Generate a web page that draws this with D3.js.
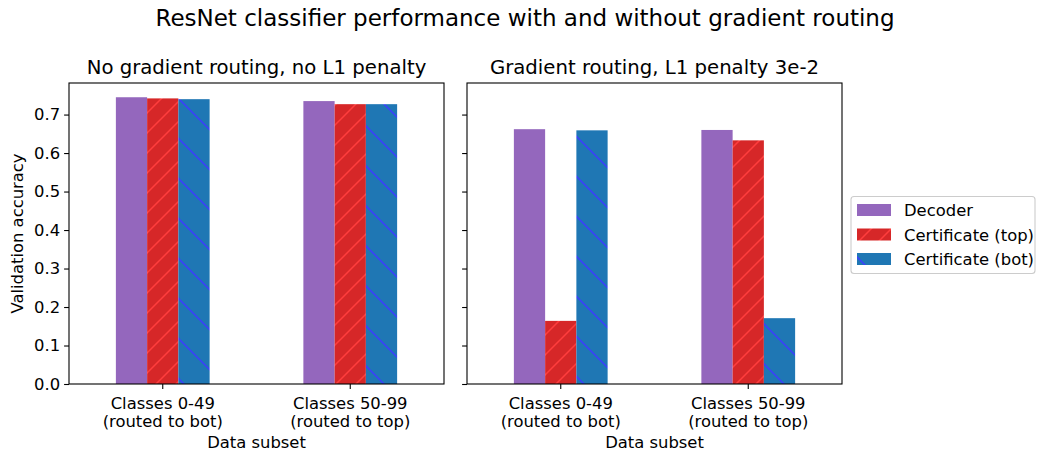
<!DOCTYPE html>
<html>
<head>
<meta charset="utf-8">
<script src="https://cdn.jsdelivr.net/npm/d3@7"></script>
<style>
  body { margin: 0; background: #fff; }
  svg { display: block; font-family: "DejaVu Sans", sans-serif; }
</style>
</head>
<body>
<svg id="chart" width="1041" height="450"></svg>
<script>
// ---- data ----
const categories = ["Classes 0-49\n(routed to bot)", "Classes 50-99\n(routed to top)"];
const seriesNames = ["Decoder", "Certificate (top)", "Certificate (bot)"];
const panelTitles = ["No gradient routing, no L1 penalty", "Gradient routing, L1 penalty 3e-2"];
const noRoutingDecoder = [0.745, 0.735];
const noRoutingCertTop = [0.742, 0.727];
const noRoutingCertBot = [0.740, 0.727];
const routingDecoder = [0.662, 0.660];
const routingCertTop = [0.164, 0.633];
const routingCertBot = [0.659, 0.171];
const yTicks = [0.0, 0.1, 0.2, 0.3, 0.4, 0.5, 0.6, 0.7];
const yMax = 0.782;

const panels = [
  { title: panelTitles[0], values: [noRoutingDecoder, noRoutingCertTop, noRoutingCertBot] },
  { title: panelTitles[1], values: [routingDecoder, routingCertTop, routingCertBot] }
];

const fills = ["#9467bd", "url(#hatchRed)", "url(#hatchBlue)"];
const FS_TICK = 16.4, FS_TITLE = 19.7, FS_SUP = 23;

const svg = d3.select("#chart");
const defs = svg.append("defs");

// red "/" hatch
const pr = defs.append("pattern").attr("id", "hatchRed")
  .attr("patternUnits", "userSpaceOnUse").attr("width", 20).attr("height", 20);
pr.append("rect").attr("width", 20).attr("height", 20).attr("fill", "#d62728");
pr.append("path").attr("d", "M-5,5 L5,-5 M0,20 L20,0 M15,25 L25,15")
  .attr("stroke", "#ff3d3d").attr("stroke-width", 1.5);

// blue "\" hatch
const pb = defs.append("pattern").attr("id", "hatchBlue")
  .attr("patternUnits", "userSpaceOnUse").attr("width", 40).attr("height", 40);
pb.append("rect").attr("width", 40).attr("height", 40).attr("fill", "#1f77b4");
pb.append("path").attr("d", "M-5,35 L5,45 M0,0 L40,40 M35,-5 L45,5")
  .attr("stroke", "#3c3cff").attr("stroke-width", 1.5);

const plotTop = 83, plotBottom = 384;
const axesX = [[69, 444], [467, 842]];

const y = d3.scaleLinear().domain([0, yMax]).range([plotBottom, plotTop]);

// suptitle
svg.append("text").attr("x", 525).attr("y", 26).attr("text-anchor", "middle")
  .attr("font-size", FS_SUP).attr("fill", "#000")
  .text("ResNet classifier performance with and without gradient routing");

panels.forEach((p, pi) => {
  const [x0, x1] = axesX[pi];
  const g = svg.append("g");
  const x = d3.scaleBand().domain(categories).range([x0, x1])
    .paddingInner(0.5).paddingOuter(0.25);
  const xs = d3.scaleBand().domain(seriesNames).range([0, x.bandwidth()]);

  // bars
  seriesNames.forEach((s, si) => {
    g.selectAll(null).data(categories).enter().append("rect")
      .attr("x", c => x(c) + xs(s))
      .attr("width", xs.bandwidth())
      .attr("y", (c, ci) => y(p.values[si][ci]))
      .attr("height", (c, ci) => y(0) - y(p.values[si][ci]))
      .attr("fill", fills[si]);
  });

  // y axis
  const ya = g.append("g").attr("transform", `translate(${x0},0)`)
    .call(d3.axisLeft(y).tickValues(yTicks).tickSize(4.9).tickPadding(4)
      .tickFormat(pi === 0 ? d3.format(".1f") : () => ""));
  ya.select(".domain").remove();
  ya.selectAll("line").attr("stroke", "#000").attr("stroke-width", 1.1);
  ya.selectAll("text").attr("font-size", FS_TICK).attr("fill", "#000")
    .attr("font-family", "DejaVu Sans");

  // x axis
  const xa = g.append("g").attr("transform", `translate(0,${plotBottom})`)
    .call(d3.axisBottom(x).tickSize(4.9).tickPadding(3.5).tickFormat(""));
  xa.select(".domain").remove();
  xa.selectAll("line").attr("stroke", "#000").attr("stroke-width", 1.1);
  xa.selectAll(".tick").each(function (c) {
    const lines = c.split("\n");
    const t = d3.select(this).append("text").attr("fill", "#000")
      .attr("font-size", FS_TICK).attr("text-anchor", "middle")
      .attr("font-family", "DejaVu Sans");
    lines.forEach((ln, li) => {
      t.append("tspan").attr("x", 0).attr("y", 25.3 + li * 17.5).text(ln);
    });
  });

  // frame
  g.append("rect").attr("x", x0).attr("y", plotTop).attr("width", x1 - x0)
    .attr("height", plotBottom - plotTop).attr("fill", "none")
    .attr("stroke", "#000").attr("stroke-width", 1.1);

  // titles
  g.append("text").attr("x", (x0 + x1) / 2).attr("y", 73.5).attr("text-anchor", "middle")
    .attr("font-size", FS_TITLE).attr("fill", "#000").text(p.title);
  g.append("text").attr("x", (x0 + x1) / 2).attr("y", 447.5).attr("text-anchor", "middle")
    .attr("font-size", FS_TICK).attr("fill", "#000").text("Data subset");
});

// y label
svg.append("text").attr("transform", `translate(23,${(plotTop + plotBottom) / 2}) rotate(-90)`)
  .attr("text-anchor", "middle").attr("font-size", FS_TICK).attr("fill", "#000")
  .text("Validation accuracy");

// legend
const lg = svg.append("g");
lg.append("rect").attr("x", 851).attr("y", 196.5).attr("width", 184).attr("height", 77)
  .attr("rx", 3).attr("fill", "#fff").attr("stroke", "#ccc").attr("stroke-width", 1.1);
seriesNames.forEach((s, si) => {
  const cy = 210 + si * 24.5;
  lg.append("rect").attr("x", 857).attr("y", cy - 6).attr("width", 34).attr("height", 12)
    .attr("fill", fills[si]);
  lg.append("text").attr("x", 904).attr("y", cy + 6).attr("font-size", FS_TICK)
    .attr("fill", "#000").text(s);
});
</script>
</body>
</html>
